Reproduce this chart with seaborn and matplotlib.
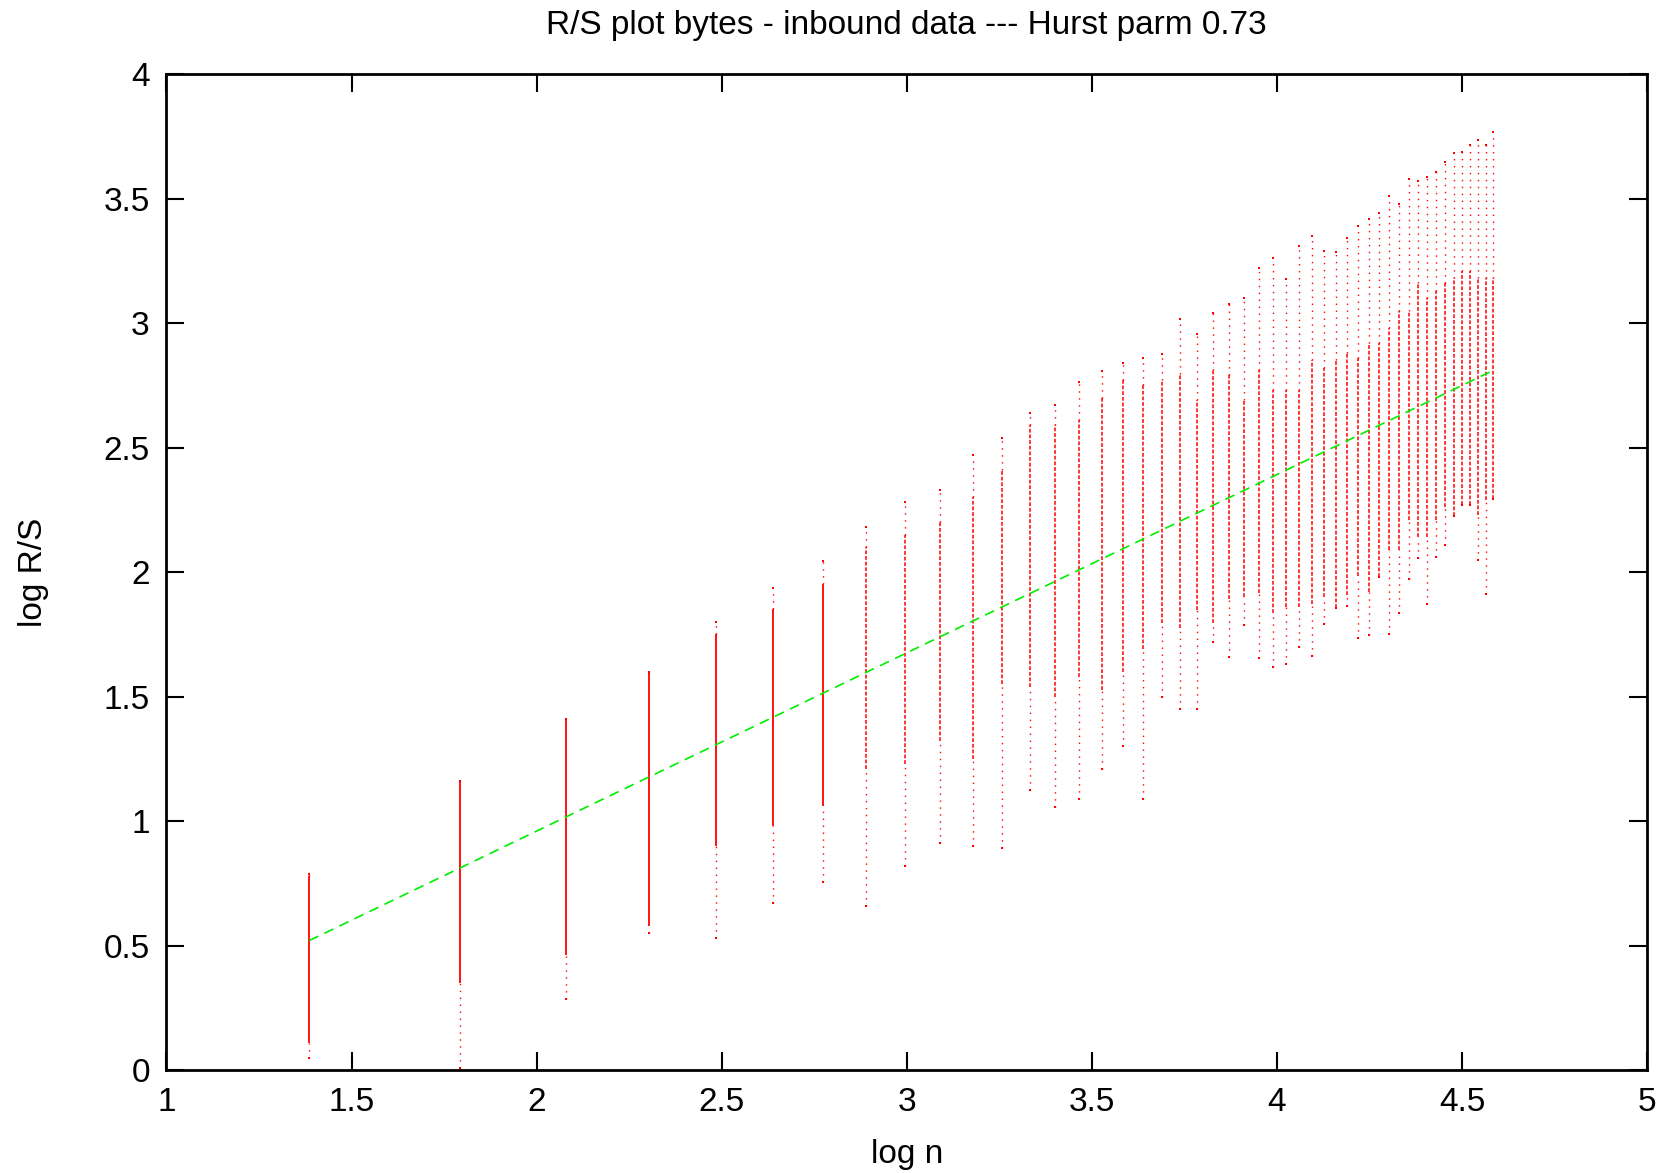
import numpy as np
import pandas as pd
import matplotlib
matplotlib.use('Agg')
import matplotlib.pyplot as plt
import seaborn as sns

# block sizes n = 4, 6, ..., 98 ; plotted at log n
block_n = [4, 6, 8, 10, 12, 14, 16, 18, 20, 22, 24, 26, 28, 30, 32, 34, 36, 38, 40, 42,
           44, 46, 48, 50, 52, 54, 56, 58, 60, 62, 64, 66, 68, 70, 72, 74, 76, 78, 80, 82,
           84, 86, 88, 90, 92, 94, 96, 98]

# lowest point, dense band bottom, dense band top, highest point (log R/S)
rs_min = [0.05, 0.01, 0.285, 0.55, 0.53, 0.67, 0.755, 0.66, 0.82, 0.91, 0.90, 0.89, 1.125, 1.056,
          1.09, 1.21, 1.30, 1.09, 1.50, 1.45, 1.45, 1.72, 1.66, 1.787, 1.654, 1.62, 1.63, 1.697,
          1.663, 1.79, 1.854, 1.865, 1.736, 1.748, 1.98, 1.75, 1.836, 1.97, 2.056, 1.87, 2.06,
          2.11, 2.225, 2.27, 2.27, 2.05, 1.91, 2.295]
rs_lo = [0.11, 0.35, 0.46, 0.58, 0.90, 0.98, 1.06, 1.21, 1.23, 1.32, 1.25, 1.55, 1.54, 1.50,
         1.58, 1.526, 1.60, 1.69, 1.795, 1.775, 1.847, 1.795, 1.89, 1.90, 1.914, 1.834, 1.86, 1.86,
         1.87, 1.90, 1.854, 1.907, 1.985, 1.92, 1.98, 2.09, 2.09, 2.21, 2.14, 2.14, 2.21,
         2.26, 2.225, 2.27, 2.27, 2.23, 2.29, 2.295]
rs_hi = [0.78, 1.16, 1.41, 1.60, 1.75, 1.85, 1.95, 2.10, 2.15, 2.20, 2.30, 2.41, 2.59, 2.59,
         2.61, 2.70, 2.77, 2.75, 2.77, 2.797, 2.69, 2.81, 2.79, 2.69, 2.81, 2.73, 2.73, 2.73,
         2.85, 2.82, 2.85, 2.88, 2.86, 2.92, 2.92, 2.98, 3.05, 3.05, 3.16, 3.10, 3.13,
         3.16, 3.18, 3.21, 3.21, 3.18, 3.18, 3.18]
rs_max = [0.787, 1.16, 1.41, 1.60, 1.80, 1.935, 2.045, 2.18, 2.28, 2.33, 2.47, 2.54, 2.64, 2.67,
          2.765, 2.807, 2.84, 2.86, 2.875, 3.016, 2.955, 3.04, 3.076, 3.099, 3.22, 3.262, 3.177,
          3.31, 3.35, 3.29, 3.284, 3.34, 3.39, 3.418, 3.44, 3.51, 3.477, 3.58, 3.57, 3.588,
          3.608, 3.645, 3.684, 3.688, 3.715, 3.735, 3.715, 3.768]

# least squares fit line end points
fit_x = [1.386, 4.585]
fit_y = [0.52, 2.81]

df = pd.DataFrame({'n': block_n, 'ymin': rs_min, 'lo': rs_lo, 'hi': rs_hi, 'ymax': rs_max})
df['logn'] = np.log(df['n'])
fit = pd.DataFrame({'logn': fit_x, 'logrs': fit_y})

sns.set_style('ticks')
plt.rcParams['font.family'] = ['Liberation Sans', 'DejaVu Sans']
plt.rcParams['text.color'] = 'black'
plt.rcParams['axes.labelcolor'] = 'black'

fig = plt.figure(figsize=(16.63, 11.73), dpi=100)
ax = fig.add_axes([0.1001, 0.0878, 0.8903, 0.8491])

red = '#ff0000'
solid = df[df['n'] <= 16]
broken = df[df['n'] > 16]

# dense part of each column
ax.vlines(solid['logn'], solid['lo'], solid['hi'], color=red, lw=1.3)
ax.vlines(broken['logn'], broken['lo'], broken['hi'], color=red, lw=1.1,
          linestyles=[(0, (2.5, 1.2))])
# sparse tails
ax.vlines(df['logn'], df['ymin'], df['lo'], color=red, lw=1.0, linestyles=[(0, (1, 4))])
ax.vlines(df['logn'], df['hi'], df['ymax'], color=red, lw=1.0, linestyles=[(0, (1, 4))])

ends = pd.concat([df[['logn']].assign(y=df['ymin']), df[['logn']].assign(y=df['ymax'])])
sns.scatterplot(data=ends, x='logn', y='y', ax=ax, color=red, marker='s', s=3,
                linewidth=0, legend=False)

sns.lineplot(data=fit, x='logn', y='logrs', ax=ax, color='#00ee00', lw=1.2,
             linestyle=(0, (6, 4)), legend=False)

ax.set_xlim(1, 5)
ax.set_ylim(0, 4)
ax.set_xticks([1, 1.5, 2, 2.5, 3, 3.5, 4, 4.5, 5])
ax.set_xticklabels(['1', '1.5', '2', '2.5', '3', '3.5', '4', '4.5', '5'])
ax.set_yticks([0, 0.5, 1, 1.5, 2, 2.5, 3, 3.5, 4])
ax.set_yticklabels(['0', '0.5', '1', '1.5', '2', '2.5', '3', '3.5', '4'])
ax.tick_params(direction='in', length=13, width=1.5, labelsize=24, top=True, right=True,
               pad=12, colors='black')
for sp in ax.spines.values():
    sp.set_linewidth(2)
    sp.set_color('black')

ax.set_xlabel('log n', fontsize=24, labelpad=15)
ax.set_ylabel('log R/S', fontsize=24, labelpad=39)
fig.text(0.545, 0.978, 'R/S plot bytes - inbound data --- Hurst parm 0.73', fontsize=24,
         ha='center', va='center')

fig.savefig('out.png', dpi=100)
